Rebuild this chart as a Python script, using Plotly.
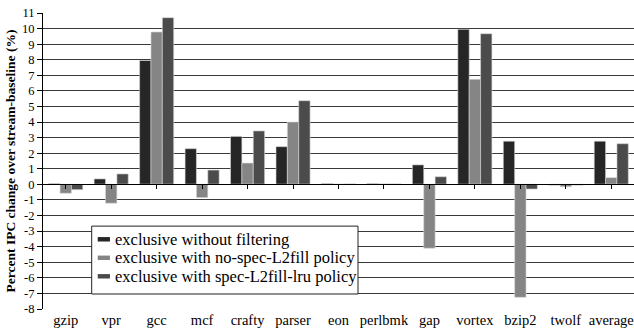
import plotly.graph_objects as go

benchmarks = ["gzip", "vpr", "gcc", "mcf", "crafty", "parser", "eon", "perlbmk",
              "gap", "vortex", "bzip2", "twolf", "average"]

no_filtering = [0.05, 0.35, 7.95, 2.29, 3.08, 2.42, 0.05, 0.05, 1.25, 9.95, 2.77, -0.05, 2.77]
no_spec_l2fill = [-0.57, -1.21, 9.78, -0.85, 1.37, 4.0, 0.02, 0.03, -4.1, 6.74, -7.25, -0.15, 0.43]
spec_l2fill_lru = [-0.34, 0.67, 10.7, 0.92, 3.43, 5.37, 0.03, 0.03, 0.49, 9.67, -0.3, -0.05, 2.61]

series_names = ["exclusive without filtering",
                "exclusive with no-spec-L2fill policy",
                "exclusive with spec-L2fill-lru policy"]
series_colors = ["#262626", "#858585", "#4b4b4b"]

y_ticks = list(range(-8, 12))
y_min, y_max = -8, 11

serif = "Liberation Serif"

fig = go.Figure()
for name, vals, col in zip(series_names, [no_filtering, no_spec_l2fill, spec_l2fill_lru], series_colors):
    fig.add_trace(go.Bar(
        x=benchmarks, y=vals, name=name,
        marker=dict(color=col, line=dict(color="#d8d8d8", width=0.6)),
        showlegend=False,
    ))

# transparent trace on the secondary x-axis so the zero-line ticks render
fig.add_trace(go.Bar(x=benchmarks, y=[0] * len(benchmarks), xaxis="x2",
                     showlegend=False, hoverinfo="skip", marker=dict(color="rgba(0,0,0,0)")))

# compact boxed legend (Excel style: thin swatches, tight rows)
box_x0, box_x1 = 0.0824, 0.533
box_y0, box_y1 = 0.0507, 0.280
row_top, row_step = 0.2355, 0.0625
sw_x0, sw_x1, sw_half = 0.0926, 0.1133, 0.0075
text_x = 0.1184

shapes = [dict(type="rect", xref="paper", yref="paper",
               x0=box_x0, x1=box_x1, y0=box_y0, y1=box_y1,
               line=dict(color="#222", width=1), fillcolor="white", layer="above")]
annotations = []
for i, (name, col) in enumerate(zip(series_names, series_colors)):
    yc = row_top - i * row_step
    shapes.append(dict(type="rect", xref="paper", yref="paper",
                       x0=sw_x0, x1=sw_x1, y0=yc - sw_half, y1=yc + sw_half,
                       line=dict(width=0), fillcolor=col, layer="above"))
    annotations.append(dict(text=name, xref="paper", yref="paper", x=text_x, y=yc,
                            xanchor="left", yanchor="middle", showarrow=False,
                            font=dict(size=16.5, family=serif, color="black")))

fig.update_layout(
    width=634, height=335,
    margin=dict(l=43, r=0, t=13, b=26),
    paper_bgcolor="white", plot_bgcolor="white",
    barmode="group", bargap=0.25, bargroupgap=0.0,
    font=dict(family=serif, color="black"),
    shapes=shapes, annotations=annotations,
    xaxis=dict(
        showline=False, showgrid=False, ticks="",
        tickfont=dict(size=14.5, family=serif), fixedrange=True,
    ),
    xaxis2=dict(
        overlaying="x", anchor="free",
        position=(0 - y_min) / (y_max - y_min),
        matches="x", showline=True, linecolor="black", linewidth=1,
        ticks="outside", ticklen=4, tickcolor="black", showticklabels=False,
        showgrid=False,
    ),
    yaxis=dict(
        range=[y_min, y_max], tickvals=y_ticks, ticktext=[str(v) for v in y_ticks],
        showgrid=True, gridcolor="#3a3a3a", gridwidth=1,
        zeroline=False, showline=True, linecolor="black", linewidth=1,
        ticks="outside", ticklen=5, tickcolor="black",
        tickfont=dict(size=12.5, family=serif),
        title=dict(text="<b>Percent IPC change over stream-baseline (%)</b>",
                   font=dict(size=13.5, family=serif), standoff=3),
    ),
)

fig.write_html("out.html")
